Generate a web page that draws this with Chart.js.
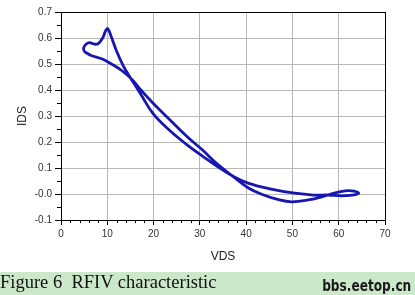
<!DOCTYPE html>
<html>
<head>
<meta charset="utf-8">
<script src="https://cdn.jsdelivr.net/npm/chart.js@4/dist/chart.umd.min.js"></script>
<style>
  body { margin: 0; background: #fff; width: 415px; height: 295px; overflow: hidden; }
  #cap {
    position: absolute; left: 0; top: 272px; width: 415px; height: 23px;
    background: #cce8cb; font-family: "Liberation Serif", "Times New Roman", serif;
  }
  #cap .fig { position: absolute; left: 0; top: -1.5px; line-height: 23px; font-size: 18.5px; color: #111; white-space: nowrap; }
  #cap .site {
    position: absolute; right: 4px; top: 2px; line-height: 23px; font-size: 16px; font-weight: bold; color: #1a1a1a;
    font-family: "DejaVu Sans", sans-serif; white-space: nowrap;
    transform: scaleX(0.76); transform-origin: right center;
  }
</style>
</head>
<body>
<canvas id="c" width="415" height="272"></canvas>
<div id="cap"><span class="fig">Figure 6&nbsp;&nbsp;RFIV characteristic</span><span class="site">bbs.eetop.cn</span></div>
<script>
// RFIV loop, traced around in drawing order (VDS, IDS)
const vds = [
    5.0, 4.9, 5.4, 6.2, 7.0, 8.0, 9.0, 9.7, 10.1, 10.8, 12.0, 13.4, 14.6, 15.6,
    17.2, 19.9, 23.5, 27.1, 30.7, 34.3, 37.0,
    40.4, 45.4, 50.5, 54.5, 57.8,
    60.5, 63.0, 64.3, 63.3, 61.4, 59.5,
    56.5, 53.4, 49.8, 47.0, 43.5, 40.4, 37.0,
    33.6, 30.7, 27.1, 23.5, 19.9, 17.0,
    15.5, 13.1, 10.9, 8.8, 6.5, 5.0
];
const ids = [
    0.548, 0.562, 0.576, 0.582, 0.577, 0.578, 0.600, 0.630, 0.636, 0.608, 0.550, 0.495, 0.458, 0.430,
    0.385, 0.309, 0.244, 0.191, 0.144, 0.100, 0.070,
    0.042, 0.019, 0.003, -0.004, -0.004,
    -0.007, -0.004, 0.003, 0.011, 0.012, 0.005,
    -0.010, -0.023, -0.030, -0.022, -0.002, 0.024, 0.070,
    0.118, 0.167, 0.223, 0.286, 0.349, 0.405,
    0.438, 0.475, 0.500, 0.520, 0.533, 0.548
];

const xMajor = 10, xMinor = 2;
const yMajor = 0.1, yMinor = 0.05;

// frame + minor ticks like the original plot
const frameTicks = {
    id: 'frameTicks',
    afterDraw(chart) {
        const { ctx, chartArea: a, scales: { x, y } } = chart;
        ctx.save();
        ctx.strokeStyle = '#000';
        ctx.lineWidth = 1;
        ctx.strokeRect(a.left + 0.5, a.top + 0.5, a.right - a.left, a.bottom - a.top);
        ctx.beginPath();
        for (let v = x.min; v <= x.max; v += xMinor) {
            if (Math.abs(v % xMajor) < 1e-6) continue;
            const px = Math.round(x.getPixelForValue(v)) + 0.5;
            ctx.moveTo(px, a.bottom); ctx.lineTo(px, a.bottom + 3);
        }
        for (let v = y.min + yMinor; v < y.max; v += yMajor) {
            const py = Math.round(y.getPixelForValue(v)) + 0.5;
            ctx.moveTo(a.left, py); ctx.lineTo(a.left - 4, py);
        }
        ctx.stroke();
        ctx.restore();
    }
};

new Chart(document.getElementById('c'), {
    type: 'scatter',
    data: {
        datasets: [{
            data: vds.map((v, i) => ({ x: v, y: ids[i] })),
            showLine: true,
            borderColor: '#1717b0',
            borderWidth: 2.8,
            pointRadius: 0,
            tension: 0.4,
            fill: false
        }]
    },
    options: {
        responsive: false,
        animation: false,
        layout: { padding: { left: 0, top: 12, right: 30, bottom: 0 } },
        plugins: { legend: { display: false }, tooltip: { enabled: false } },
        scales: {
            x: {
                type: 'linear', min: 0, max: 70,
                ticks: { stepSize: xMajor, color: '#333', font: { family: 'Liberation Sans', size: 10 }, padding: 3, maxRotation: 0 },
                grid: { color: '#b8b8b8', tickColor: '#000', tickLength: 5 },
                border: { display: true, color: '#000' },
                title: { display: true, text: 'VDS', color: '#222', font: { family: 'Liberation Sans', size: 12 }, padding: { top: 0, bottom: 8 } },
                afterFit(s) { s.height = 52; }
            },
            y: {
                type: 'linear', min: -0.1, max: 0.7,
                ticks: { stepSize: yMajor, color: '#333', font: { family: 'Liberation Sans', size: 10 }, padding: 3,
                    callback: v => v.toFixed(1) },
                grid: { color: '#b8b8b8', tickColor: '#000', tickLength: 6 },
                border: { display: true, color: '#000' },
                title: { display: true, text: 'IDS', color: '#222', font: { family: 'Liberation Sans', size: 12 }, padding: { top: 15, bottom: 0 } },
                afterFit(s) { s.width = 61; }
            }
        }
    },
    plugins: [frameTicks]
});
</script>
</body>
</html>
